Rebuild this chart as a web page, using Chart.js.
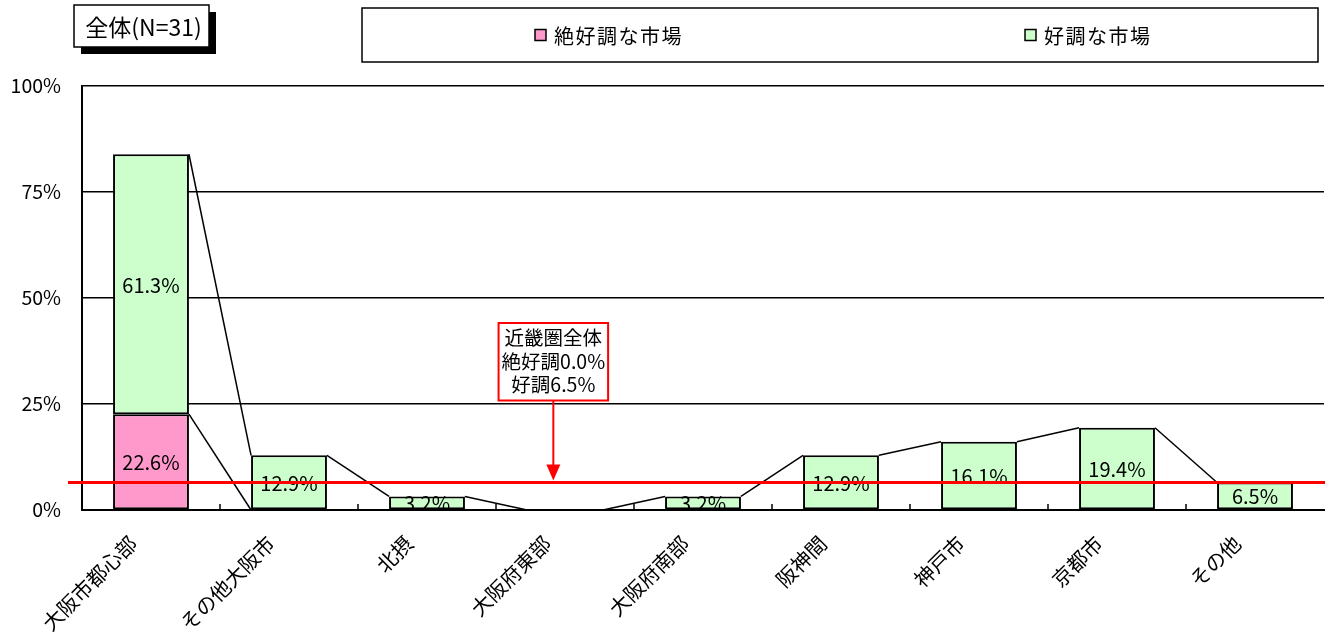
<!DOCTYPE html>
<html>
<head>
<meta charset="utf-8">
<script src="https://cdn.jsdelivr.net/npm/chart.js@4/dist/chart.umd.min.js"></script>
<style>
  html, body { margin: 0; padding: 0; background: #fff; }
  #wrap { width: 1325px; height: 634px; }
</style>
</head>
<body>
<div id="wrap"><canvas id="c" width="1325" height="634"></canvas></div>
<script>
// 地域別 市場の好調度（全体）
const regions = ['大阪市都心部', 'その他大阪市', '北摂', '大阪府東部', '大阪府南部', '阪神間', '神戸市', '京都市', 'その他'];
const zekkouchou = [22.6, 0, 0, 0, 0, 0, 0, 0, 0];      // 絶好調な市場 (%)
const kouchou    = [61.3, 12.9, 3.2, 0, 3.2, 12.9, 16.1, 19.4, 6.5]; // 好調な市場 (%)
const seriesNames = ['絶好調な市場', '好調な市場'];
const seriesColors = ['#FF99CC', '#CCFFCC'];
const yTicks = [0, 25, 50, 75, 100];
const chartTitle = '全体(N=31)';
const kinkiZekkouchou = 0.0; // 近畿圏全体 絶好調
const kinkiKouchou = 6.5;    // 近畿圏全体 好調
const noteLines = ['近畿圏全体', '絶好調' + kinkiZekkouchou.toFixed(1) + '%', '好調' + kinkiKouchou.toFixed(1) + '%'];

const FONT = "'Noto Sans CJK JP', 'Noto Sans', sans-serif";
Chart.defaults.font.family = FONT;
Chart.defaults.color = '#000';

// 各系列の右上端から次の棒の左上端へ結ぶ区分線
const seriesLinesPlugin = {
  id: 'seriesLines',
  afterDatasetsDraw(chart) {
    const ctx = chart.ctx;
    ctx.save();
    ctx.strokeStyle = '#000';
    ctx.lineWidth = 1.5;
    chart.data.datasets.forEach((ds, di) => {
      const els = chart.getDatasetMeta(di).data;
      for (let i = 0; i < els.length - 1; i++) {
        const a = els[i], b = els[i + 1];
        ctx.beginPath();
        ctx.moveTo(a.x + a.width / 2, a.y);
        ctx.lineTo(b.x - b.width / 2, b.y);
        ctx.stroke();
      }
    });
    ctx.restore();
  }
};

// 値ラベル（各区分の中央）
const valueLabelsPlugin = {
  id: 'valueLabels',
  afterDatasetsDraw(chart) {
    const ctx = chart.ctx;
    ctx.save();
    ctx.font = '20px ' + FONT;
    ctx.fillStyle = '#000';
    ctx.textAlign = 'center';
    ctx.textBaseline = 'middle';
    chart.data.datasets.forEach((ds, di) => {
      const els = chart.getDatasetMeta(di).data;
      ds.data.forEach((v, i) => {
        if (!v) return;
        const el = els[i];
        ctx.fillText(v.toFixed(1) + '%', el.x, (el.y + el.base) / 2 + 1);
      });
    });
    ctx.restore();
  }
};

// 内向きの目盛り（項目の境界）
const innerTicksPlugin = {
  id: 'innerTicks',
  afterDatasetsDraw(chart) {
    const xs = chart.scales.x;
    const bottom = chart.chartArea.bottom;
    const ctx = chart.ctx;
    ctx.save();
    ctx.strokeStyle = '#000';
    ctx.lineWidth = 1.5;
    for (let i = 1; i < regions.length; i++) {
      const x = (xs.getPixelForValue(i - 1) + xs.getPixelForValue(i)) / 2;
      ctx.beginPath();
      ctx.moveTo(x, bottom);
      ctx.lineTo(x, bottom - 6);
      ctx.stroke();
    }
    ctx.restore();
  }
};

// 近畿圏全体の基準線・注記・タイトル・凡例
const overlayPlugin = {
  id: 'overlay',
  afterDraw(chart) {
    const ctx = chart.ctx;
    const area = chart.chartArea;
    const ys = chart.scales.y;
    ctx.save();

    // 基準線
    const yRef = ys.getPixelForValue(kinkiZekkouchou + kinkiKouchou);
    ctx.strokeStyle = '#FF0000';
    ctx.lineWidth = 3;
    ctx.beginPath();
    ctx.moveTo(68, yRef);
    ctx.lineTo(chart.width, yRef);
    ctx.stroke();

    // 注記ボックス
    ctx.font = '19.5px ' + FONT;
    const noteW = Math.max(...noteLines.map(t => ctx.measureText(t).width)) + 6;
    const noteCx = area.left + area.width * 0.3795;
    const noteTop = 323, lineH = 23.5;
    const noteH = lineH * noteLines.length + 7;
    ctx.fillStyle = '#fff';
    ctx.fillRect(noteCx - noteW / 2, noteTop, noteW, noteH);
    ctx.strokeStyle = '#FF0000';
    ctx.lineWidth = 2;
    ctx.strokeRect(noteCx - noteW / 2, noteTop, noteW, noteH);
    ctx.fillStyle = '#000';
    ctx.textAlign = 'center';
    ctx.textBaseline = 'middle';
    noteLines.forEach((t, i) => ctx.fillText(t, noteCx, noteTop + 15 + i * lineH));

    // 矢印
    const tipY = yRef - 2;
    ctx.strokeStyle = '#FF0000';
    ctx.fillStyle = '#FF0000';
    ctx.lineWidth = 2;
    ctx.beginPath();
    ctx.moveTo(noteCx, noteTop + noteH);
    ctx.lineTo(noteCx, tipY - 14);
    ctx.stroke();
    ctx.beginPath();
    ctx.moveTo(noteCx - 7, tipY - 16);
    ctx.lineTo(noteCx + 7, tipY - 16);
    ctx.lineTo(noteCx, tipY);
    ctx.closePath();
    ctx.fill();

    // タイトルボックス（影付き）
    const tb = { x: 74, y: 5, w: 135, h: 42 };
    ctx.fillStyle = '#000';
    ctx.fillRect(tb.x + 7, tb.y + 7, tb.w, tb.h);
    ctx.fillStyle = '#fff';
    ctx.fillRect(tb.x, tb.y, tb.w, tb.h);
    ctx.strokeStyle = '#000';
    ctx.lineWidth = 1.5;
    ctx.strokeRect(tb.x, tb.y, tb.w, tb.h);
    ctx.fillStyle = '#000';
    ctx.font = '23px ' + FONT;
    ctx.textAlign = 'center';
    ctx.textBaseline = 'middle';
    ctx.fillText(chartTitle, tb.x + tb.w / 2 + 2, tb.y + tb.h / 2 + 1);

    // 凡例ボックス
    const lb = { x: 362, y: 8, w: 956, h: 54 };
    ctx.fillStyle = '#fff';
    ctx.fillRect(lb.x, lb.y, lb.w, lb.h);
    ctx.strokeStyle = '#000';
    ctx.lineWidth = 1.5;
    ctx.strokeRect(lb.x, lb.y, lb.w, lb.h);
    const itemX = [535, 1025];
    ctx.font = '20px ' + FONT;
    ctx.textAlign = 'left';
    ctx.textBaseline = 'middle';
    if ('letterSpacing' in ctx) ctx.letterSpacing = '1.5px';
    seriesNames.forEach((name, i) => {
      const x = itemX[i], cy = lb.y + lb.h / 2;
      ctx.fillStyle = seriesColors[i];
      ctx.fillRect(x, cy - 5.5, 11, 11);
      ctx.strokeStyle = '#000';
      ctx.lineWidth = 1.5;
      ctx.strokeRect(x, cy - 5.5, 11, 11);
      ctx.fillStyle = '#000';
      ctx.fillText(name, x + 19, cy + 1);
    });
    ctx.restore();
  }
};

new Chart(document.getElementById('c'), {
  type: 'bar',
  data: {
    labels: regions,
    datasets: [
      { label: seriesNames[0], data: zekkouchou, backgroundColor: seriesColors[0] },
      { label: seriesNames[1], data: kouchou, backgroundColor: seriesColors[1] }
    ].map(d => Object.assign(d, {
      borderColor: '#000', borderWidth: 2, borderSkipped: false,
      barPercentage: 0.55, categoryPercentage: 1
    }))
  },
  options: {
    responsive: false,
    animation: false,
    devicePixelRatio: 1,
    layout: { padding: { top: 86, right: 1, left: 0, bottom: 0 } },
    plugins: { legend: { display: false }, title: { display: false }, tooltip: { enabled: false } },
    scales: {
      x: {
        stacked: true,
        grid: { display: false, drawTicks: false },
        border: { color: '#000', width: 2 },
        ticks: { color: '#000', font: { size: 20.5 }, minRotation: 45, maxRotation: 45, labelOffset: -18, padding: 21, autoSkip: false },
        afterFit: s => { s.height = 124; }
      },
      y: {
        stacked: true,
        min: 0, max: 100,
        afterBuildTicks: s => { s.ticks = yTicks.map(v => ({ value: v })); },
        ticks: { color: '#000', font: { size: 19.5 }, padding: 21, callback: v => v + '%' },
        grid: { color: '#000', lineWidth: 1.5, drawTicks: false },
        border: { color: '#000', width: 2 },
        afterFit: s => { s.width = 82; }
      }
    }
  },
  plugins: [seriesLinesPlugin, innerTicksPlugin, valueLabelsPlugin, overlayPlugin]
});
</script>
</body>
</html>
